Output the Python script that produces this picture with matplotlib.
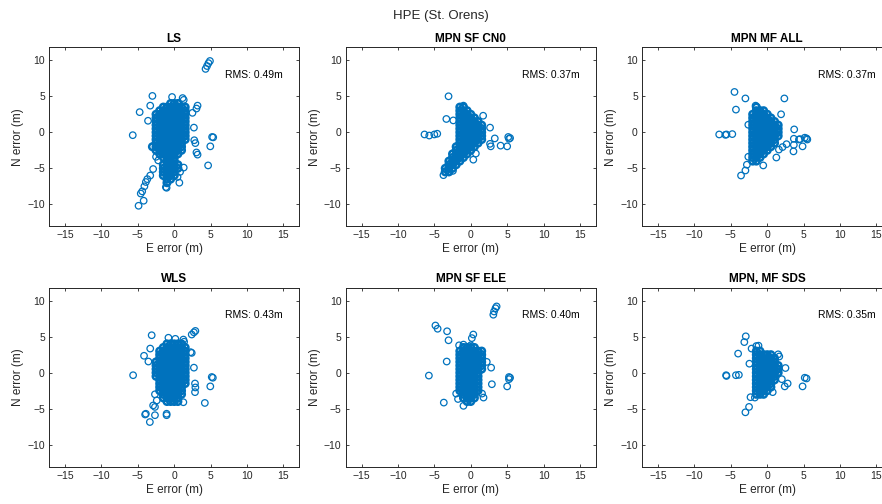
import matplotlib.pyplot as plt

plt.rcParams['font.family'] = ['Liberation Sans', 'DejaVu Sans']

titles = ['LS', 'MPN SF CN0', 'MPN MF ALL', 'WLS', 'MPN SF ELE', 'MPN, MF SDS']
rms_values = [0.49, 0.37, 0.37, 0.43, 0.40, 0.35]

# dense part of each cloud, row by row: (N error, [E errors]); then the loose points as (E, N)
ls_core = [
    (4.0, [-0.5, 0.0, 0.5]),
    (3.5, [-1.5, -1.0, -0.5, 0.0, 0.5, 1.0, 1.5]),
    (3.0, [-2.0, -1.5, -1.0, -0.5, 0.0, 0.5, 1.0, 1.5]),
    (2.5, [-2.5, -2.0, -1.5, -1.0, -0.5, 0.0, 0.5, 1.0, 1.5]),
    (2.0, [-2.5, -2.0, -1.5, -1.0, -0.5, 0.0, 0.5, 1.0, 1.5]),
    (1.5, [-2.5, -2.0, -1.5, -1.0, -0.5, 0.0, 0.5, 1.0, 1.5]),
    (1.0, [-2.5, -2.0, -1.5, -1.0, -0.5, 0.0, 0.5, 1.0, 1.5]),
    (0.5, [-2.5, -2.0, -1.5, -1.0, -0.5, 0.0, 0.5, 1.0, 1.5]),
    (0.0, [-2.5, -2.0, -1.5, -1.0, -0.5, 0.0, 0.5, 1.0, 1.5]),
    (-0.5, [-2.5, -2.0, -1.5, -1.0, -0.5, 0.0, 0.5, 1.0, 1.5]),
    (-1.0, [-2.5, -2.0, -1.5, -1.0, -0.5, 0.0, 0.5, 1.0, 1.5]),
    (-1.5, [-2.5, -2.0, -1.5, -1.0, -0.5, 0.0, 0.5, 1.0]),
    (-2.0, [-3.0, -2.5, -2.0, -1.5, -1.0, -0.5, 0.0, 0.5, 1.0]),
    (-2.5, [-2.5, -2.0, -1.5, -1.0, -0.5, 0.0, 0.5, 1.0]),
    (-3.0, [-2.0, -1.5, -1.0, -0.5, 0.0, 0.5]),
    (-3.5, [-1.5, -1.0, -0.5, 0.0]),
    (-4.0, [-1.0, -0.5, 0.0]),
    (-4.5, [-1.5, -1.0, -0.5, 0.0, 0.5]),
    (-5.0, [-1.5, -1.0, -0.5, 0.0, 0.5]),
    (-5.5, [-1.5, -1.0, -0.5, 0.0]),
    (-6.0, [-1.5, -1.0, -0.5, 0.0]),
    (-6.5, [-1.0, -0.5]),
    (-7.0, [-1.0]),
]
ls_extra = [(4.9, 9.9), (4.7, 9.6), (4.5, 9.2), (4.3, 8.8), (-3.0, 5.05), (-0.3, 4.9), (1.15, 4.75),
            (1.3, 4.5), (-3.3, 3.7), (-4.75, 2.8), (-3.6, 1.6), (-5.7, -0.4), (3.2, 3.7), (3.05, 3.3),
            (2.5, 2.7), (2.7, 0.65), (2.75, -1.1), (2.9, -1.5), (3.05, -2.8), (3.2, -3.1), (5.2, -0.65),
            (5.35, -0.7), (4.95, -1.95), (4.65, -4.6), (1.3, -4.9), (-2.2, -3.9), (-2.5, -3.4),
            (-2.9, -5.1), (-3.3, -6.0), (-3.7, -6.5), (-3.9, -6.9), (-4.1, -7.5), (-4.4, -8.2),
            (-4.6, -8.5), (-4.2, -9.5), (-4.9, -10.2), (-1.15, -7.6), (-1.05, -7.7), (0.7, -7.0),
            (0.45, -6.2), (0.8, -5.5)]

cn0_core = [
    (3.5, [-1.5, -1.0]),
    (3.0, [-1.5, -1.0, -0.5]),
    (2.5, [-1.5, -1.0, -0.5, 0.0]),
    (2.0, [-1.5, -1.0, -0.5, 0.0, 0.5]),
    (1.5, [-1.5, -1.0, -0.5, 0.0, 0.5, 1.0]),
    (1.0, [-1.5, -1.0, -0.5, 0.0, 0.5, 1.0, 1.5]),
    (0.5, [-1.5, -1.0, -0.5, 0.0, 0.5, 1.0, 1.5]),
    (0.0, [-1.5, -1.0, -0.5, 0.0, 0.5, 1.0, 1.5]),
    (-0.5, [-1.5, -1.0, -0.5, 0.0, 0.5, 1.0, 1.5]),
    (-1.0, [-1.5, -1.0, -0.5, 0.0, 0.5, 1.0, 1.5]),
    (-1.5, [-1.5, -1.0, -0.5, 0.0, 0.5, 1.0]),
    (-2.0, [-2.0, -1.5, -1.0, -0.5, 0.0, 0.5]),
    (-2.5, [-2.0, -1.5, -1.0, -0.5, 0.0]),
    (-3.0, [-2.5, -2.0, -1.5, -1.0, -0.5]),
    (-3.5, [-2.5, -2.0, -1.5, -1.0]),
    (-4.0, [-3.0, -2.5, -2.0, -1.5]),
    (-4.5, [-3.0, -2.5, -2.0]),
    (-5.0, [-3.5, -3.0, -2.5]),
    (-5.5, [-3.5, -3.0]),
]
cn0_extra = [(-3.05, 5.0), (-1.0, 3.7), (-3.35, 1.85), (-2.4, 1.65), (-6.35, -0.3), (-5.7, -0.45),
             (-5.0, -0.3), (-4.6, -0.2), (1.7, 2.3), (2.65, 0.65), (3.3, -0.85), (2.65, -1.6),
             (2.75, -1.95), (4.1, -1.85), (5.0, -1.95), (5.15, -0.65), (5.4, -0.8), (5.25, -0.9),
             (0.7, -2.95), (0.35, -3.8), (-2.45, -5.35), (-3.75, -5.95)]

all_core = [
    (3.5, [-1.5]),
    (3.0, [-1.5, -1.0, -0.5]),
    (2.5, [-2.0, -1.5, -1.0, -0.5, 0.0]),
    (2.0, [-2.0, -1.5, -1.0, -0.5, 0.0, 0.5]),
    (1.5, [-2.0, -1.5, -1.0, -0.5, 0.0, 0.5, 1.0]),
    (1.0, [-2.0, -1.5, -1.0, -0.5, 0.0, 0.5, 1.0, 1.5]),
    (0.5, [-2.0, -1.5, -1.0, -0.5, 0.0, 0.5, 1.0, 1.5]),
    (0.0, [-2.0, -1.5, -1.0, -0.5, 0.0, 0.5, 1.0, 1.5]),
    (-0.5, [-2.0, -1.5, -1.0, -0.5, 0.0, 0.5, 1.0, 1.5]),
    (-1.0, [-2.0, -1.5, -1.0, -0.5, 0.0, 0.5, 1.0]),
    (-1.5, [-2.0, -1.5, -1.0, -0.5, 0.0, 0.5, 1.0]),
    (-2.0, [-2.0, -1.5, -1.0, -0.5, 0.0, 0.5]),
    (-2.5, [-2.0, -1.5, -1.0, -0.5, 0.0]),
    (-3.0, [-2.0, -1.5, -1.0, -0.5]),
    (-3.5, [-2.0, -1.5, -1.0]),
    (-4.0, [-2.0, -1.5]),
]
all_extra = [(-4.5, 5.6), (-3.0, 4.7), (-4.3, 3.15), (2.35, 4.7), (1.9, 2.5), (-1.6, 3.7), (-2.6, 1.05),
             (-6.6, -0.3), (-5.75, -0.35), (-5.6, -0.3), (-4.8, -0.25), (3.7, 0.4), (2.65, -1.65),
             (3.65, -0.9), (3.65, -1.75), (3.6, -2.65), (4.35, -1.0), (4.5, -0.95), (4.85, -1.95),
             (5.15, -0.75), (5.4, -0.85), (5.5, -1.0), (2.1, -2.05), (1.6, -2.4), (1.25, -3.5),
             (-0.55, -4.6), (-2.6, -3.4), (-2.8, -4.5), (-3.0, -5.3), (-3.6, -6.0)]

wls_core = [
    (4.0, [-1.0, -0.5, 0.0, 0.5, 1.0]),
    (3.5, [-1.5, -1.0, -0.5, 0.0, 0.5, 1.0, 1.5]),
    (3.0, [-2.0, -1.5, -1.0, -0.5, 0.0, 0.5, 1.0, 1.5]),
    (2.5, [-2.0, -1.5, -1.0, -0.5, 0.0, 0.5, 1.0, 1.5]),
    (2.0, [-2.0, -1.5, -1.0, -0.5, 0.0, 0.5, 1.0, 1.5]),
    (1.5, [-2.5, -2.0, -1.5, -1.0, -0.5, 0.0, 0.5, 1.0, 1.5]),
    (1.0, [-2.5, -2.0, -1.5, -1.0, -0.5, 0.0, 0.5, 1.0, 1.5]),
    (0.5, [-2.5, -2.0, -1.5, -1.0, -0.5, 0.0, 0.5, 1.0, 1.5]),
    (0.0, [-2.5, -2.0, -1.5, -1.0, -0.5, 0.0, 0.5, 1.0, 1.5]),
    (-0.5, [-2.5, -2.0, -1.5, -1.0, -0.5, 0.0, 0.5, 1.0, 1.5]),
    (-1.0, [-2.0, -1.5, -1.0, -0.5, 0.0, 0.5, 1.0, 1.5]),
    (-1.5, [-2.0, -1.5, -1.0, -0.5, 0.0, 0.5, 1.0, 1.5]),
    (-2.0, [-2.0, -1.5, -1.0, -0.5, 0.0, 0.5, 1.0]),
    (-2.5, [-2.0, -1.5, -1.0, -0.5, 0.0, 0.5, 1.0]),
    (-3.0, [-1.5, -1.0, -0.5, 0.0, 0.5, 1.0]),
    (-3.5, [-1.5, -1.0, -0.5, 0.0, 0.5]),
    (-4.0, [-1.0, -0.5, 0.0, 0.5]),
]
wls_extra = [(-3.1, 5.2), (-0.8, 4.85), (0.15, 4.7), (1.25, 4.6), (1.35, 4.3), (2.4, 5.3), (2.7, 5.6),
             (2.9, 5.8), (2.25, 2.85), (2.4, 2.75), (-3.3, 3.35), (-4.15, 2.35), (-3.55, 1.55),
             (-5.65, -0.35), (2.7, 0.7), (2.85, -1.5), (2.9, -2.05), (2.85, -2.7), (5.15, -0.6),
             (5.3, -0.7), (4.95, -1.9), (4.2, -4.2), (1.25, -4.1), (-2.65, -3.0), (-2.4, -3.85),
             (-2.9, -4.55), (-2.65, -4.75), (-3.9, -5.7), (-4.0, -5.8), (-2.65, -5.9), (-3.35, -6.85),
             (-1.05, -5.7), (-1.05, -5.9)]

ele_core = [
    (3.5, [-1.0, -0.5, 0.0, 0.5]),
    (3.0, [-1.5, -1.0, -0.5, 0.0, 0.5, 1.0, 1.5]),
    (2.5, [-1.5, -1.0, -0.5, 0.0, 0.5, 1.0, 1.5]),
    (2.0, [-1.5, -1.0, -0.5, 0.0, 0.5, 1.0, 1.5]),
    (1.5, [-1.5, -1.0, -0.5, 0.0, 0.5, 1.0, 1.5]),
    (1.0, [-1.5, -1.0, -0.5, 0.0, 0.5, 1.0, 1.5]),
    (0.5, [-1.5, -1.0, -0.5, 0.0, 0.5, 1.0, 1.5]),
    (0.0, [-1.5, -1.0, -0.5, 0.0, 0.5, 1.0]),
    (-0.5, [-1.5, -1.0, -0.5, 0.0, 0.5, 1.0]),
    (-1.0, [-1.5, -1.0, -0.5, 0.0, 0.5, 1.0]),
    (-1.5, [-1.5, -1.0, -0.5, 0.0, 0.5, 1.0]),
    (-2.0, [-1.5, -1.0, -0.5, 0.0, 0.5, 1.0]),
    (-2.5, [-1.5, -1.0, -0.5, 0.0, 0.5, 1.0]),
    (-3.0, [-1.0, -0.5, 0.0, 0.5]),
    (-3.5, [-1.0, -0.5, 0.0, 0.5]),
    (-4.0, [-0.5, 0.0]),
]
ele_extra = [(3.55, 9.2), (3.4, 8.95), (3.2, 8.5), (3.1, 8.05), (-4.85, 6.55), (-4.55, 6.1),
             (-3.25, 5.75), (-3.05, 4.5), (0.35, 5.3), (0.15, 4.8), (-1.6, 3.8), (-1.0, 3.9),
             (0.0, 3.8), (-3.3, 1.55), (-5.75, -0.4), (2.2, 1.5), (2.8, 0.7), (2.9, -1.6),
             (5.25, -0.6), (5.4, -0.7), (5.25, -0.9), (5.0, -1.9), (-3.7, -4.15), (-2.0, -2.9),
             (-1.75, -3.65), (-1.0, -4.6), (1.75, -3.45), (1.55, -2.9)]

sds_core = [
    (3.0, [-1.5, -1.0]),
    (2.5, [-1.5, -1.0, -0.5, 0.0, 0.5]),
    (2.0, [-1.5, -1.0, -0.5, 0.0, 0.5, 1.0]),
    (1.5, [-1.5, -1.0, -0.5, 0.0, 0.5, 1.0]),
    (1.0, [-1.5, -1.0, -0.5, 0.0, 0.5, 1.0, 1.5]),
    (0.5, [-1.5, -1.0, -0.5, 0.0, 0.5, 1.0, 1.5]),
    (0.0, [-1.5, -1.0, -0.5, 0.0, 0.5, 1.0, 1.5]),
    (-0.5, [-1.5, -1.0, -0.5, 0.0, 0.5, 1.0]),
    (-1.0, [-1.5, -1.0, -0.5, 0.0, 0.5, 1.0]),
    (-1.5, [-1.5, -1.0, -0.5, 0.0, 0.5]),
    (-2.0, [-1.5, -1.0, -0.5, 0.0, 0.5]),
    (-2.5, [-1.5, -1.0, -0.5, 0.0]),
    (-3.0, [-1.5, -1.0, -0.5]),
]
sds_extra = [(-2.95, 5.05), (-3.15, 4.25), (-4.0, 2.65), (-2.15, 3.35), (-1.5, 3.7), (-1.2, 3.75),
             (-5.65, -0.35), (-5.6, -0.45), (-4.3, -0.35), (-3.9, -0.3), (-2.45, 1.25), (1.5, 2.55),
             (1.65, 2.25), (2.5, 0.65), (2.0, -0.9), (2.8, -1.5), (2.4, -1.9), (5.15, -0.7),
             (5.4, -0.8), (4.85, -1.9), (-2.3, -3.4), (-1.7, -3.45), (-2.5, -4.75), (-3.0, -5.5),
             (0.75, -2.7)]

clouds = [(ls_core, ls_extra), (cn0_core, cn0_extra), (all_core, all_extra),
          (wls_core, wls_extra), (ele_core, ele_extra), (sds_core, sds_extra)]

blue = '#0072BD'
dark = '#262626'

fig = plt.figure(figsize=(8.82, 5.04), dpi=100)
fig.text(0.5, 1 - 16 / 504, 'HPE (St. Orens)', ha='center', va='center', fontsize=9.5, color=dark)

lefts = [49, 345.5, 642]
tops = [47.3, 287.7]
w, h = 250.5, 179

for i, (core, extra) in enumerate(clouds):
    r, c = divmod(i, 3)
    ax = fig.add_axes([lefts[c] / 882, 1 - (tops[r] + h) / 504, w / 882, h / 504])

    core_e = [x for n, xs in core for x in xs]
    core_n = [y for y, xs in core for x in xs]
    # the packed middle of the cloud overlaps so much it reads as solid
    ax.scatter(core_e, core_n, s=22, facecolors='none', edgecolors=blue, linewidths=1.8)
    ax.scatter([p[0] for p in extra], [p[1] for p in extra], s=22,
               facecolors='none', edgecolors=blue, linewidths=0.9)

    ax.set_xlim(-17.2, 17.2)
    ax.set_ylim(-13.05, 11.8)
    ax.set_xticks([-15, -10, -5, 0, 5, 10, 15])
    ax.set_yticks([-10, -5, 0, 5, 10])
    ax.tick_params(direction='in', top=True, right=True, length=2.5, width=0.6,
                   colors=dark, labelsize=7.5, pad=3)
    for sp in ax.spines.values():
        sp.set_color(dark)
        sp.set_linewidth(0.7)

    ax.set_title(titles[i], fontsize=8.5, fontweight='bold', pad=4)
    ax.set_xlabel('E error (m)', fontsize=8.5, color=dark, labelpad=2)
    ax.set_ylabel('N error (m)', fontsize=8.5, color=dark, labelpad=2)
    ax.text(7, 8, f'RMS: {rms_values[i]:.2f}m', fontsize=7.5, va='center')

fig.savefig('out.png', dpi=100)
